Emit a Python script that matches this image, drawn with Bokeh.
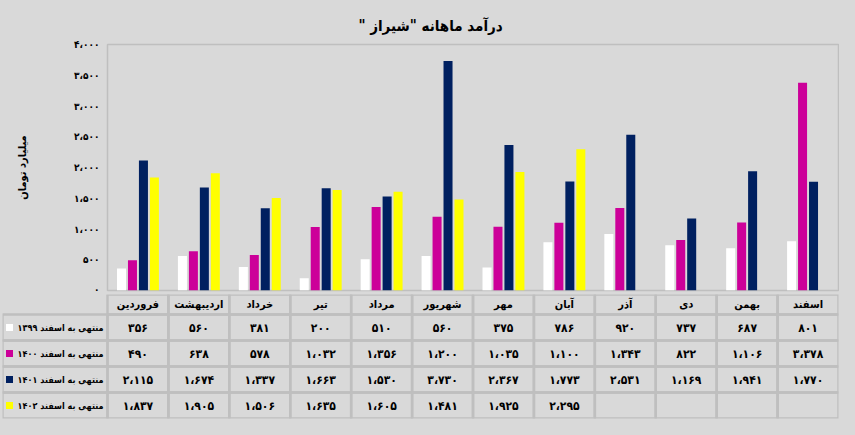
from bokeh.plotting import figure
from bokeh.models import Range1d, FactorRange, FixedTicker, ColumnDataSource
from bokeh.transform import dodge
from bokeh.layouts import column
from bokeh.embed import file_html
from bokeh.resources import INLINE
from bokeh.core.properties import value

# ---------------- data ----------------
months = ["فروردین", "اردیبهشت", "خرداد", "تیر", "مرداد", "شهریور",
          "مهر", "آبان", "آذر", "دی", "بهمن", "اسفند"]
series_names = ["منتهی به اسفند ۱۳۹۹", "منتهی به اسفند ۱۴۰۰",
                "منتهی به اسفند ۱۴۰۱", "منتهی به اسفند ۱۴۰۲"]
v1399 = [356, 560, 381, 200, 510, 560, 375, 786, 920, 737, 687, 801]
v1400 = [490, 638, 578, 1032, 1356, 1200, 1035, 1100, 1343, 822, 1106, 3378]
v1401 = [2115, 1674, 1337, 1663, 1530, 3730, 2367, 1773, 2531, 1169, 1941, 1770]
v1402 = [1837, 1905, 1506, 1635, 1605, 1481, 1925, 2295, None, None, None, None]
y_ticks = [0, 500, 1000, 1500, 2000, 2500, 3000, 3500, 4000]
title_text = 'درآمد ماهانه "شیراز "'
y_label = "میلیارد تومان"

series = [v1399, v1400, v1401, v1402]
colors = ["#ffffff", "#cc0099", "#002060", "#ffff00"]

FNAME = "DejaVu Sans Condensed, DejaVu Sans"
FONT = value(FNAME)
BG = "#d9d9d9"
GRID = "#bfbfbf"
RLM = "\u200f"
_tr = str.maketrans("0123456789,", "۰۱۲۳۴۵۶۷۸۹،")


def fa(n):
    return f"{n:,}".translate(_tr)


# ---------------- chart ----------------
W = 839
p = figure(width=W, height=294, x_range=FactorRange(*months), y_range=Range1d(0, 4000),
           output_backend="svg", toolbar_location=None, x_axis_location=None,
           min_border_left=107, min_border_right=1, min_border_top=44, min_border_bottom=4,
           background_fill_color=BG, border_fill_color=BG,
           outline_line_color=GRID, outline_line_width=1.5,
           title=RLM + title_text + RLM)
p.grid.visible = False
p.title.align = "left"
p.title.offset = 251
p.title.standoff = 20
p.title.text_font = FNAME
p.title.text_font_size = "15px"
p.title.text_font_style = "bold"
p.title.text_color = "black"

ya = p.yaxis[0]
ya.ticker = FixedTicker(ticks=y_ticks)
ya.major_label_overrides = {t: fa(t) for t in y_ticks}
ya.axis_line_color = None
ya.major_tick_line_color = None
ya.minor_tick_line_color = None
ya.major_tick_out = 0
ya.major_tick_in = 0
ya.minor_tick_out = 0
ya.minor_tick_in = 0
ya.major_label_standoff = 8
ya.major_label_text_font = FNAME
ya.major_label_text_font_size = "10px"
ya.major_label_text_font_style = "bold"
ya.major_label_text_color = "black"
ya.axis_label = y_label
ya.axis_label_text_font = FNAME
ya.axis_label_text_font_size = "11px"
ya.axis_label_text_font_style = "bold"
ya.axis_label_text_color = "black"
ya.axis_label_standoff = 42

step = 0.18
bar_w = 0.148
offsets = [-1.5 * step, -0.5 * step, 0.5 * step, 1.5 * step]
for vals, col, off in zip(series, colors, offsets):
    xs = [m for m, v in zip(months, vals) if v is not None]
    ys = [v for v in vals if v is not None]
    src = ColumnDataSource(dict(month=xs, val=ys))
    p.vbar(x=dodge("month", off, range=p.x_range), top="val", bottom=0, width=bar_w,
           source=src, fill_color=col, line_color=None)

# ---------------- data table ----------------
col_px = (W - 107 - 1) / 12.0
leg_units = 105 / col_px
row_px = 26.0
hdr = 20 / row_px
t = figure(width=W, height=125, x_range=Range1d(-leg_units, 12), y_range=Range1d(0, 4 + hdr),
           output_backend="svg", toolbar_location=None,
           x_axis_location=None, y_axis_location=None,
           min_border_left=2, min_border_right=1, min_border_top=0, min_border_bottom=1,
           background_fill_color=BG, border_fill_color=BG, outline_line_color=None)
t.grid.visible = False

idx = [i + 0.5 for i in range(len(months))]

# header row
t.rect(x=idx, y=[4 + hdr / 2] * 12, width=1, height=hdr,
       fill_color=None, line_color=GRID, line_width=2.5)
t.text(x=idx, y=[4 + hdr / 2] * 12, text=months, text_font=FONT, text_font_style="bold",
       text_font_size="11px", text_align="center", text_baseline="middle", text_color="black")

for r, (vals, col, name) in enumerate(zip(series, colors, series_names)):
    yc = 4 - r - 0.5
    t.rect(x=idx, y=[yc] * 12, width=1, height=1,
           fill_color=None, line_color=GRID, line_width=2.5)
    t.rect(x=[-leg_units / 2], y=[yc], width=leg_units, height=1,
           fill_color=None, line_color=GRID, line_width=2.5)
    xs = [x for x, v in zip(idx, vals) if v is not None]
    txt = [fa(v) for v in vals if v is not None]
    t.text(x=xs, y=[yc] * len(xs), text=txt, text_font=FONT, text_font_style="bold",
           text_font_size="12px", text_align="center", text_baseline="middle", text_color="black")
    t.text(x=[0], y=[yc], text=[RLM + name], x_offset=-4, text_font=FONT, text_font_style="bold",
           text_font_size="9px", text_align="right", text_baseline="middle", text_color="black")
    t.scatter(x=[-leg_units + 7 / col_px], y=[yc], marker="square", size=7,
              fill_color=col, line_color=None)

layout = column(column(p), column(t), spacing=0)

html = file_html(layout, INLINE, title="Shiraz monthly revenue")
html = html.replace("<head>", "<head><style>html,body{background:#d9d9d9;}</style>", 1)
open("out.html", "w").write(html)
